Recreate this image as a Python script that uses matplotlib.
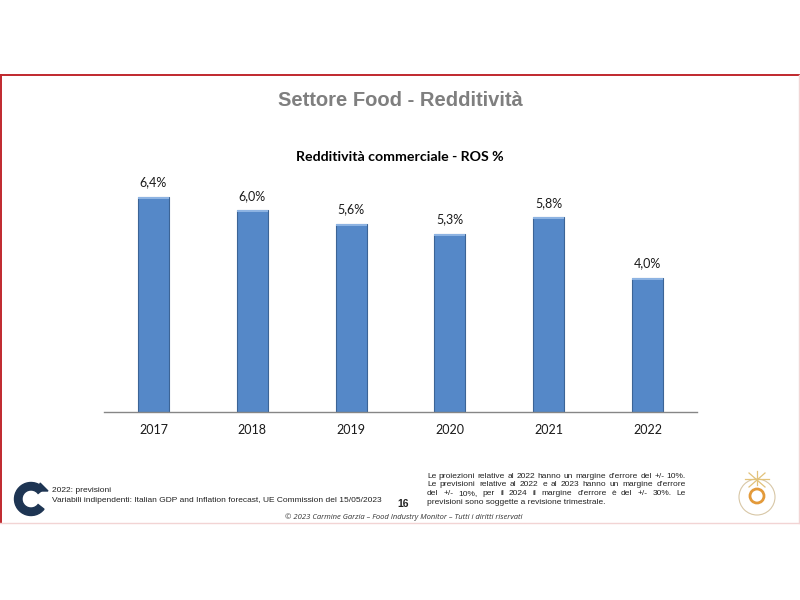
import matplotlib
matplotlib.use("Agg")
import matplotlib.pyplot as plt
from matplotlib.lines import Line2D
from matplotlib.patches import Wedge, Polygon, Circle
from matplotlib.transforms import IdentityTransform

years = ["2017", "2018", "2019", "2020", "2021", "2022"]
ros = [6.4, 6.0, 5.6, 5.3, 5.8, 4.0]
value_labels = ["6,4%", "6,0%", "5,6%", "5,3%", "5,8%", "4,0%"]

title = "Settore Food - Redditività"
subtitle = "Redditività commerciale - ROS %"
note_left = ["2022: previsioni",
             "Variabili indipendenti: Italian GDP and Inflation forecast, UE Commission del 15/05/2023"]
note_right = ["Le proiezioni relative al 2022 hanno un margine d\u2019errore del +/- 10%.",
              "Le previsioni relative al  2022 e al 2023 hanno un margine d\u2019errore",
              "del +/- 10%, per il 2024 il margine d\u2019errore è del +/- 30%. Le",
              "previsioni sono soggette a revisione trimestrale."]
page_no = "16"
copyright_txt = "© 2023 Carmine Garzia \u2013 Food Industry Monitor \u2013 Tutti i diritti riservati"

W, H = 800, 600
fig = plt.figure(figsize=(8, 6), dpi=100)
fig.patch.set_facecolor("white")
PX = IdentityTransform()

def fx(x):
    return x / W

def fy(y):
    return 1 - y / H

# slide frame
fig.add_artist(Line2D([fx(0), fx(800)], [fy(75), fy(75)], color="#C0282D", lw=1.4))
fig.add_artist(Line2D([fx(1), fx(1)], [fy(75), fy(523)], color="#C0282D", lw=1.4))
fig.add_artist(Line2D([fx(0), fx(800)], [fy(523), fy(523)], color="#F2D4D4", lw=1.0))
fig.add_artist(Line2D([fx(799), fx(799)], [fy(75), fy(523)], color="#F2D4D4", lw=1.0))

# titles
fig.text(fx(400), fy(100), title, ha="center", va="center", fontsize=14.5,
         fontweight="bold", color="#7F7F7F", family="Liberation Sans")
fig.text(fx(400), fy(157), subtitle, ha="center", va="center", fontsize=10.2,
         fontweight="bold", color="#000000", family="Lato")

# chart
scale = 33.6  # px per %
ax = fig.add_axes([fx(104), fy(412), (697 - 104) / W, (412 - 180) / H])
x = list(range(len(years)))
ax.bar(x, ros, width=0.315, color="#5588C8", edgecolor="#3C6496", linewidth=0.8, zorder=2)
ax.bar(x, [0.06] * len(ros), bottom=[v - 0.06 for v in ros], width=0.315,
       color="#8DB3E2", linewidth=0, zorder=3)
for xi, v, lab in zip(x, ros, value_labels):
    ax.annotate(lab, (xi, v), xytext=(0, 6), textcoords="offset points",
                ha="center", va="bottom", fontsize=9, family="Lato", color="#1A1A1A")
ax.set_xlim(-0.5, len(years) - 0.5)
ax.set_ylim(0, (412 - 180) / scale)
ax.set_xticks(x)
ax.set_xticklabels(years, fontsize=9, family="Lato", color="#1A1A1A")
ax.tick_params(axis="x", length=0, pad=9)
ax.set_yticks([])
for s in ["top", "right", "left"]:
    ax.spines[s].set_visible(False)
ax.spines["bottom"].set_color("#868686")
ax.spines["bottom"].set_linewidth(1.0)
ax.patch.set_alpha(0)

# left logo (stylised "C"), pixel coordinates (origin bottom-left)
fig.add_artist(Wedge((31, H - 499), 16.5, 38, 322, width=7.5, color="#1E3553", transform=PX))
fig.add_artist(Polygon([[40, H - 483], [48, H - 491], [40, H - 491]], closed=True,
                       color="#1E3553", transform=PX))

# left notes
fig.text(fx(52), fy(490), note_left[0], ha="left", va="center", fontsize=6.0,
         family="Liberation Sans", color="#222222")
fig.text(fx(52), fy(500), note_left[1], ha="left", va="center", fontsize=6.0,
         family="Liberation Sans", color="#222222")

# page number
fig.text(fx(403), fy(504), page_no, ha="center", va="center", fontsize=7.5,
         fontweight="bold", family="Liberation Sans", color="#222222")

# right notes, justified between x=427 and x=686
fig.canvas.draw()
renderer = fig.canvas.get_renderer()
x0, x1 = 427, 686
for i, line in enumerate(note_right):
    yy = fy(476 + i * 8.9)
    if i == len(note_right) - 1:
        fig.text(fx(x0), yy, line, ha="left", va="center", fontsize=6.0,
                 family="Liberation Sans", color="#222222")
        continue
    words = line.split()
    texts = [fig.text(0, yy, w, ha="left", va="center", fontsize=6.0,
                      family="Liberation Sans", color="#222222") for w in words]
    widths = [t.get_window_extent(renderer).width for t in texts]
    gap = (x1 - x0 - sum(widths)) / (len(words) - 1)
    cur = x0
    for t, wd in zip(texts, widths):
        t.set_x(fx(cur))
        cur += wd + gap

# copyright
fig.text(fx(404), fy(517), copyright_txt, ha="center", va="center", fontsize=5.5,
         style="italic", family="Open Sans", color="#333333")

# right emblem (simplified)
cx, cy = 757, H - 497
fig.add_artist(Circle((cx, cy), 18, fill=False, ec="#D8C7A6", lw=0.8, transform=PX))
fig.add_artist(Circle((cx, cy + 1), 7, fill=False, ec="#E39A3A", lw=2.0, transform=PX))
for dx0, dy0, dx1, dy1 in [(-8, 24, 8, 10), (8, 24, -8, 10), (0, 26, 0, 12), (-12, 18, 12, 18)]:
    fig.add_artist(Line2D([cx + dx0, cx + dx1], [cy + dy0, cy + dy1], color="#E2C27A",
                          lw=0.9, transform=PX))

fig.savefig("out.png", dpi=100, facecolor="white")
